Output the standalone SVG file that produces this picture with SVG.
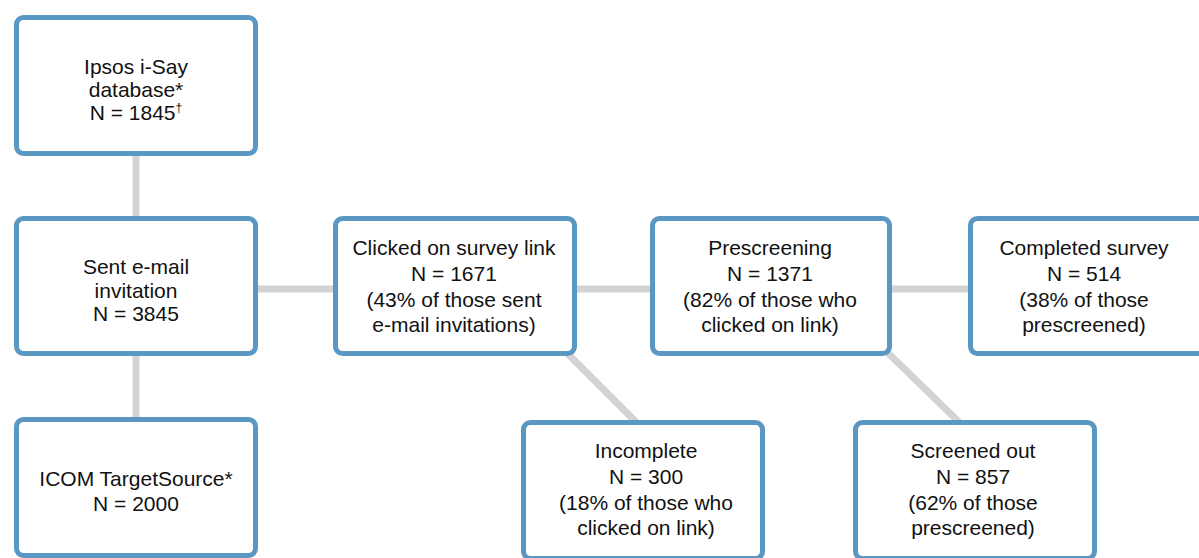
<svg xmlns="http://www.w3.org/2000/svg" width="1199" height="558" viewBox="0 0 1199 558">
<style>
.box{fill:#fff;stroke:#5b97c3;stroke-width:5}
.conn line{stroke:#d3d3d3;stroke-width:7}
text{font-family:"Liberation Sans",Arial,sans-serif;font-size:21px;fill:#111;text-anchor:middle}
</style>
<rect width="1199" height="558" fill="#fff"/>
<g id="connectors" class="conn">
<line x1="136" y1="156" x2="136" y2="218"/>
<line x1="136" y1="354" x2="136" y2="418"/>
<line x1="258" y1="289" x2="334" y2="289"/>
<line x1="575" y1="289" x2="651" y2="289"/>
<line x1="890" y1="289" x2="969" y2="289"/>
<line x1="566" y1="352" x2="636" y2="422"/>
<line x1="887" y1="352" x2="959" y2="422"/>
</g>
<g id="ipsos">
<rect class="box" x="16.5" y="17.5" width="239" height="136" rx="7"/>
<text x="136" y="74">Ipsos i-Say</text>
<text x="136" y="97">database*</text>
<text x="136" y="120">N = 1845<tspan font-size="12" dy="-8" fill="#111">†</tspan></text>
</g>
<g id="sent">
<rect class="box" x="16.5" y="218.5" width="239" height="135" rx="7"/>
<text x="136" y="274">Sent e-mail</text>
<text x="136" y="298">invitation</text>
<text x="136" y="321">N = 3845</text>
</g>
<g id="icom">
<rect class="box" x="16.5" y="419.5" width="239" height="136" rx="7"/>
<text x="136" y="486">ICOM TargetSource*</text>
<text x="136" y="511">N = 2000</text>
</g>
<g id="clicked">
<rect class="box" x="335.5" y="218.5" width="239" height="135" rx="7"/>
<text x="454" y="255">Clicked on survey link</text>
<text x="454" y="281">N = 1671</text>
<text x="454" y="307">(43% of those sent</text>
<text x="454" y="332">e-mail invitations)</text>
</g>
<g id="prescreening">
<rect class="box" x="652.5" y="218.5" width="237" height="135" rx="7"/>
<text x="770" y="255">Prescreening</text>
<text x="770" y="281">N = 1371</text>
<text x="770" y="307">(82% of those who</text>
<text x="770" y="332">clicked on link)</text>
</g>
<g id="completed">
<rect class="box" x="970.5" y="218.5" width="245" height="135" rx="7"/>
<text x="1084" y="255">Completed survey</text>
<text x="1084" y="281">N = 514</text>
<text x="1084" y="307">(38% of those</text>
<text x="1084" y="332">prescreened)</text>
</g>
<g id="incomplete">
<rect class="box" x="523.5" y="422.5" width="239" height="136" rx="7"/>
<text x="646" y="458">Incomplete</text>
<text x="646" y="484">N = 300</text>
<text x="646" y="510">(18% of those who</text>
<text x="646" y="535">clicked on link)</text>
</g>
<g id="screened">
<rect class="box" x="855.5" y="422.5" width="239" height="136" rx="7"/>
<text x="973" y="458">Screened out</text>
<text x="973" y="484">N = 857</text>
<text x="973" y="510">(62% of those</text>
<text x="973" y="535">prescreened)</text>
</g>
</svg>
